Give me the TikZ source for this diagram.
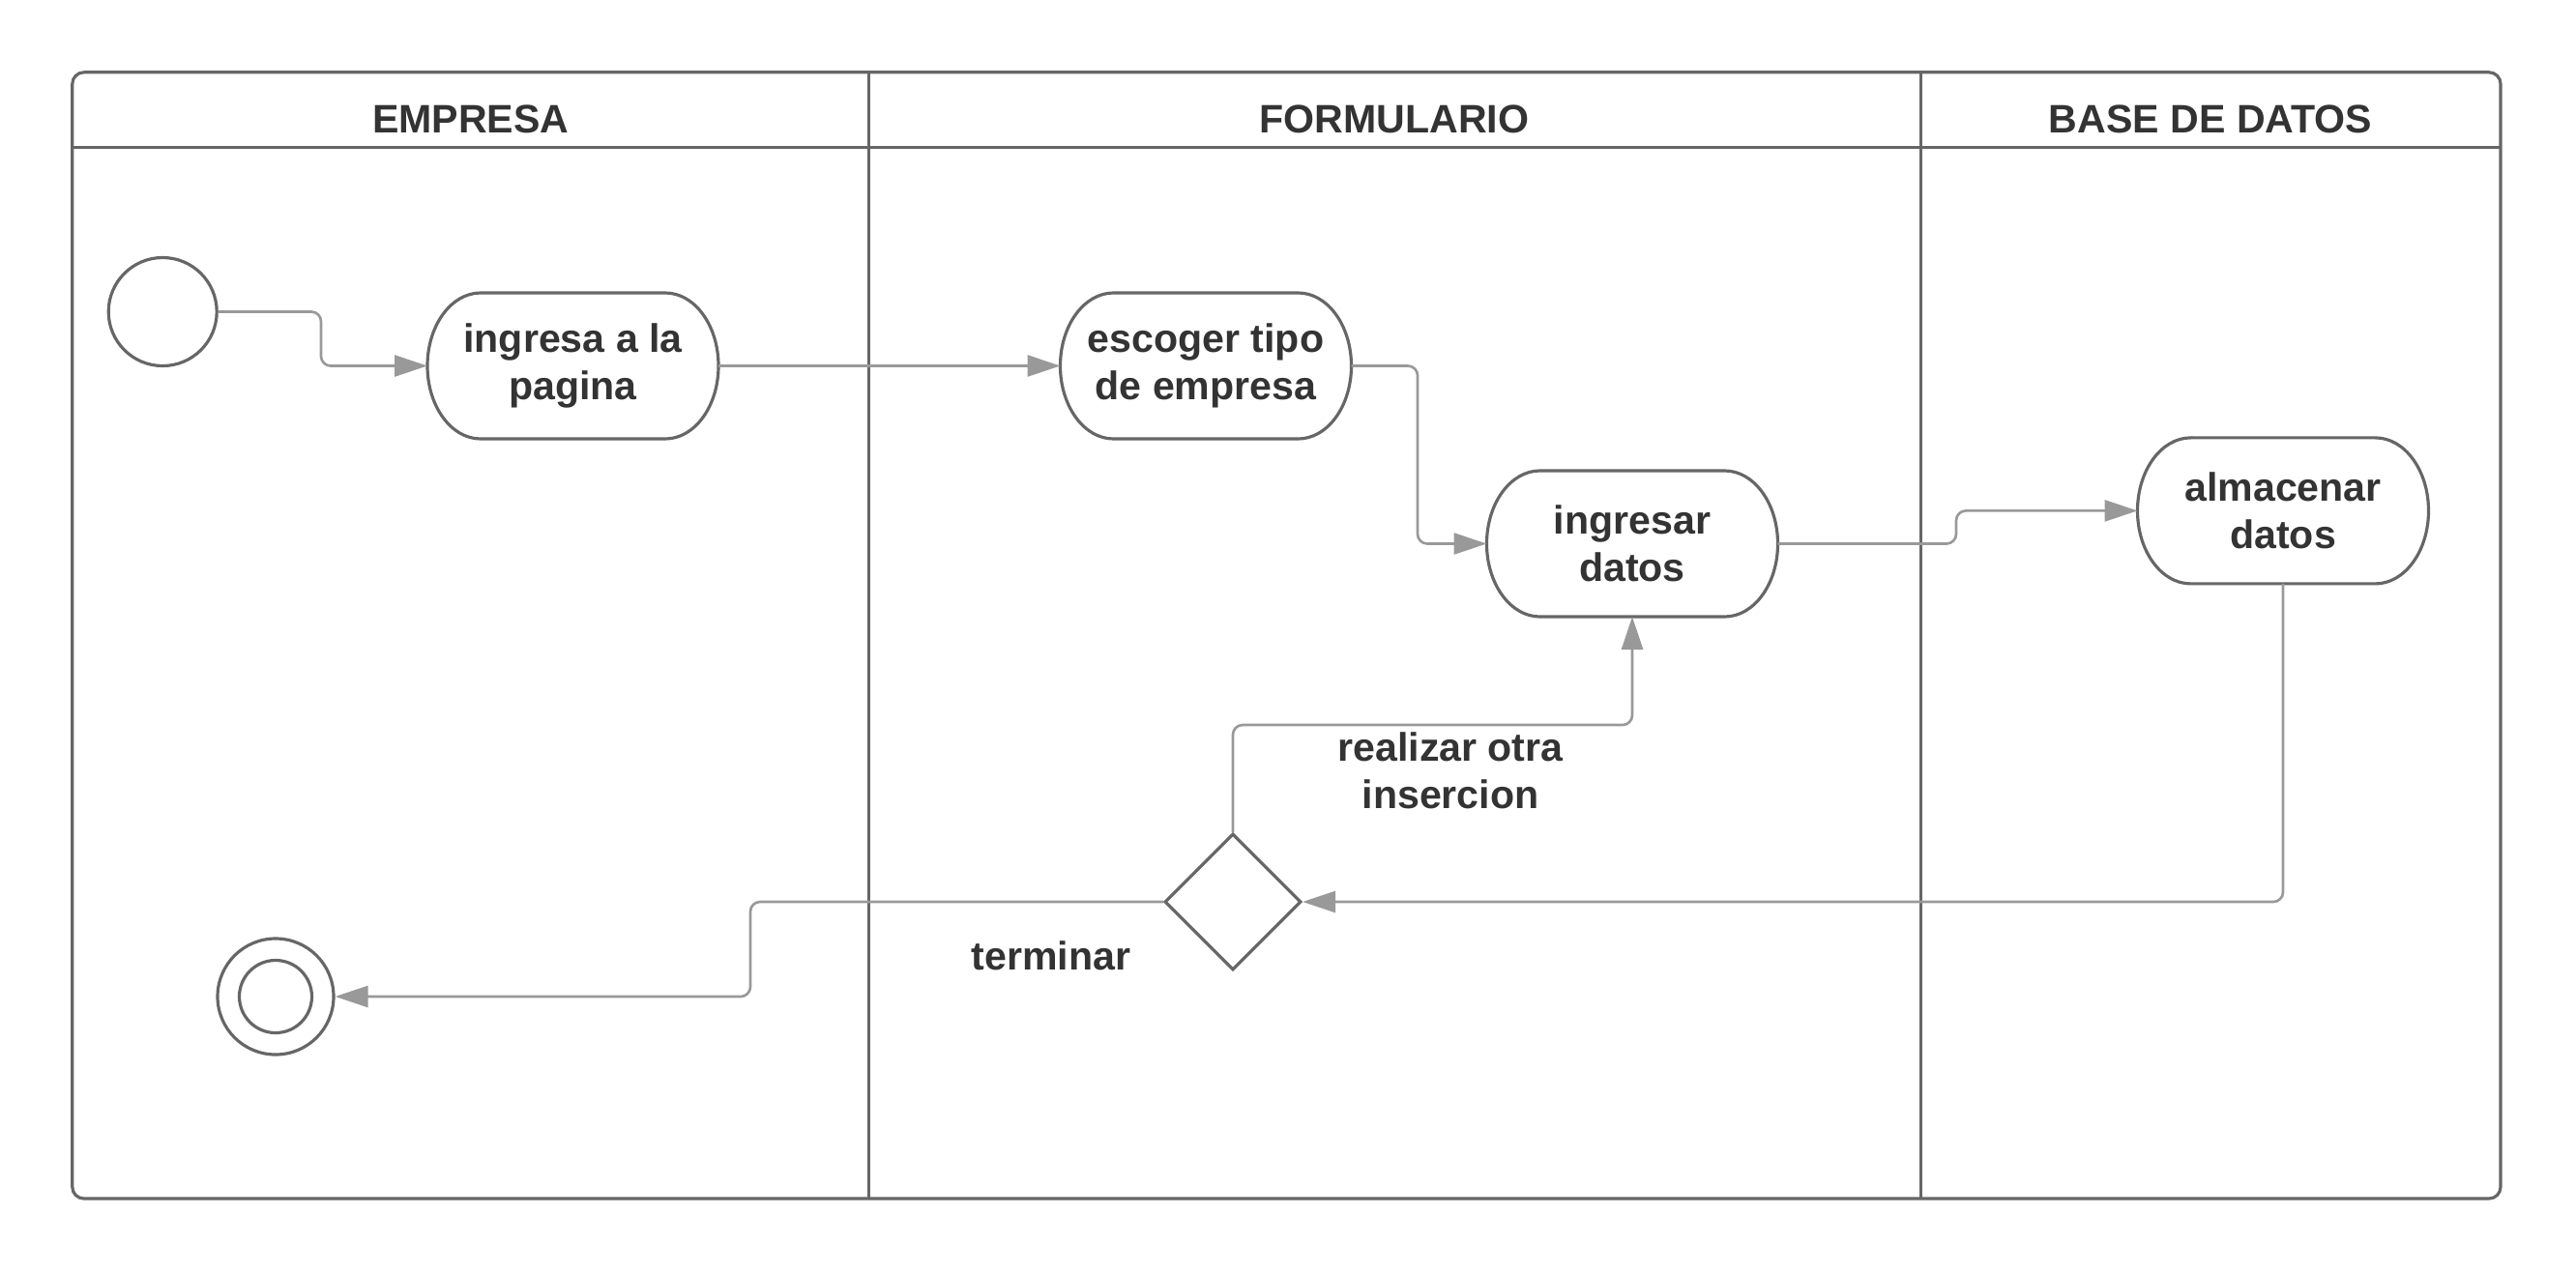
\documentclass[tikz,border=0pt]{standalone}
\usepackage{fontspec}
\setmainfont{Liberation Sans}
\usetikzlibrary{shapes.geometric, arrows.meta, positioning}
\definecolor{linegray}{HTML}{666666}
\definecolor{flowgray}{HTML}{999999}
\definecolor{textgray}{HTML}{333333}
\tikzset{
    lanetitle/.style = {font=\fontsize{11.7}{14}\selectfont\bfseries, text=textgray},
    activity/.style = {rectangle, minimum width=3.01cm, minimum height=1.51cm, inner sep=0pt, outer sep=0pt, align=center, font=\fontsize{11.7}{14}\selectfont\bfseries, text=textgray,
        append after command={\pgfextra{\draw[linegray, line width=0.9pt] ([xshift=0.55cm]\tikzlastnode.north west) -- ([xshift=-0.55cm]\tikzlastnode.north east) arc[start angle=90, end angle=-90, x radius=0.55cm, y radius=0.755cm] -- ([xshift=0.55cm]\tikzlastnode.south west) arc[start angle=270, end angle=90, x radius=0.55cm, y radius=0.755cm] -- cycle;}}},
    initial/.style = {circle, minimum size=1.12cm, inner sep=0pt, draw=linegray, line width=0.9pt},
    finalout/.style = {circle, minimum size=1.2cm, inner sep=0pt, draw=linegray, line width=0.9pt, fill=white},
    finalin/.style = {circle, minimum size=0.75cm, inner sep=0pt, draw=linegray, line width=0.9pt},
    decision/.style = {diamond, minimum width=1.41cm, minimum height=1.41cm, inner sep=0pt, draw=linegray, line width=0.9pt, fill=white},
    guard/.style = {align=center, font=\fontsize{11.7}{14}\selectfont\bfseries, text=textgray},
    flow/.style = {draw=flowgray, line width=0.75pt, rounded corners=0.1cm, -{Triangle[length=0.34cm, width=0.22cm, fill=flowgray]}}
}

\begin{document}
\begin{tikzpicture}
\useasboundingbox (0,0) rectangle (26.64,-13.16);

% swimlanes
\draw[linegray, line width=0.9pt, rounded corners=0.12cm] (0.748,-0.748) rectangle (25.86,-12.40);
\draw[linegray, line width=0.9pt] (0.748,-1.529) -- (25.86,-1.529);
\draw[linegray, line width=0.9pt] (8.988,-0.748) -- (8.988,-12.40);
\draw[linegray, line width=0.9pt] (19.861,-0.748) -- (19.861,-12.40);

\node[lanetitle] (empresa) at (4.868,-1.235) {EMPRESA};
\node[lanetitle] (formulario) at (14.42,-1.235) {FORMULARIO};
\node[lanetitle] (basedatos) at (22.86,-1.235) {BASE DE DATOS};

% activities
\node[initial] (start) at (1.682,-3.225) {};
\node[activity] (ingresa) at (5.925,-3.785) {ingresa a la\\pagina};
\node[activity] (escoger) at (12.47,-3.785) {escoger tipo\\de empresa};
\node[activity] (ingresar) at (16.88,-5.625) {ingresar\\datos};
\node[activity] (almacenar) at (23.61,-5.284) {almacenar\\datos};
\node[decision] (dec) at (12.75,-9.33) {};
\node[finalout] (final) at (2.85,-10.31) {};
\node[finalin] (finalc) at (2.85,-10.31) {};

% bends
\coordinate (b1) at (3.32,-3.225);
\coordinate (b2) at (14.66,-3.785);
\coordinate (b3) at (20.23,-5.625);
\coordinate (b4) at (12.75,-7.50);
\coordinate (b5) at (7.76,-9.33);

\draw[flow] (start.east) -- (b1) |- (ingresa.west);
\draw[flow] (ingresa.east) -- (escoger.west);
\draw[flow] (escoger.east) -- (b2) |- (ingresar.west);
\draw[flow] (ingresar.east) -- (b3) |- (almacenar.west);
\draw[flow] (almacenar.south) |- (dec.east);
\draw[flow] (dec.north) -- (b4) -| (ingresar.south);
\draw[flow] (dec.west) -- (b5) |- (final.east);

\node[guard] (otra) at (15.00,-7.97) {realizar otra\\insercion};
\node[guard] (terminar) at (10.87,-9.89) {terminar};

\end{tikzpicture}
\end{document}
